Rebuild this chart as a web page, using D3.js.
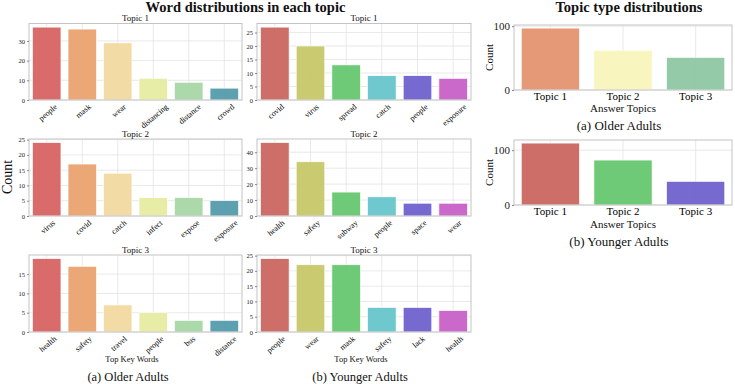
<!DOCTYPE html>
<html lang="en">
  <head>
    <meta charset="utf-8">
    <title>Word and topic distributions</title>
    <style>
      body { margin: 0; background: white; }
      svg { display: block; font-family: "Liberation Serif", "Times New Roman", serif; }
    </style>
    <script src="https://d3js.org/d3.v7.min.js"></script>
  </head>
  <body>
    <div class="viz"></div>
    <script>
    // word counts per topic, older adults
    const olderT1Words = ["people", "mask", "wear", "distancing", "distance", "crowd"];
    const olderT1Counts = [37, 36, 29, 11, 9, 6];
    const olderT2Words = ["virus", "covid", "catch", "infect", "expose", "exposure"];
    const olderT2Counts = [24, 17, 14, 6, 6, 5];
    const olderT3Words = ["health", "safety", "travel", "people", "bus", "distance"];
    const olderT3Counts = [19, 17, 7, 5, 3, 3];

    // word counts per topic, younger adults
    const youngerT1Words = ["covid", "virus", "spread", "catch", "people", "exposure"];
    const youngerT1Counts = [27, 20, 13, 9, 9, 8];
    const youngerT2Words = ["health", "safety", "subway", "people", "space", "wear"];
    const youngerT2Counts = [46, 34, 15, 12, 8, 8];
    const youngerT3Words = ["people", "wear", "mask", "safety", "lack", "health"];
    const youngerT3Counts = [24, 22, 22, 8, 8, 7];

    // topic type counts
    const topicNames = ["Topic 1", "Topic 2", "Topic 3"];
    const olderTopicCounts = [97, 62, 51];
    const youngerTopicCounts = [113, 82, 43];

    const spectral6 = ["#d6605e", "#e9a06a", "#f1d89c", "#e5eca0", "#a5d6a3", "#4f98a9"];
    const hls6 = ["#c9625c", "#c6c564", "#62c66a", "#62c3c9", "#6a5ccc", "#c65cc6"];
    const spectral3 = ["#e4906a", "#f7f4b8", "#8cc6a2"];
    const hls3 = ["#c9625c", "#62c66a", "#6a5ccc"];

    const W = 735, H = 384;
    const svg = d3.select(".viz").append("svg")
      .attr("width", W).attr("height", H);

    function panel(o) {
      const g = svg.append("g");
      const x = d3.scaleBand().domain(o.cats)
        .range([o.x0, o.x1]).paddingInner(0.2).paddingOuter(0.1);
      const y = d3.scaleLinear().domain([0, d3.max(o.vals) * 1.05])
        .range([o.y1, o.y0]);

      // grid
      g.append("g").selectAll("line.h").data(y.ticks(o.nTicks)).join("line")
        .attr("x1", o.x0).attr("x2", o.x1)
        .attr("y1", d => y(d)).attr("y2", d => y(d))
        .attr("stroke", "#e3e3e3").attr("stroke-width", 0.8);
      g.append("g").selectAll("line.v").data(o.cats).join("line")
        .attr("x1", d => x(d) + x.bandwidth() / 2).attr("x2", d => x(d) + x.bandwidth() / 2)
        .attr("y1", o.y0).attr("y2", o.y1)
        .attr("stroke", "#e3e3e3").attr("stroke-width", 0.8);

      g.append("g").selectAll("rect").data(o.vals).join("rect")
        .attr("x", (d, i) => x(o.cats[i]))
        .attr("width", x.bandwidth())
        .attr("y", d => y(d))
        .attr("height", d => o.y1 - y(d))
        .attr("fill", (d, i) => o.colors[i])
        .attr("fill-opacity", 0.92)
        .attr("stroke", "white").attr("stroke-width", 0.6);

      g.append("rect")
        .attr("x", o.x0).attr("y", o.y0)
        .attr("width", o.x1 - o.x0).attr("height", o.y1 - o.y0)
        .attr("fill", "none").attr("stroke", "#c4c4c4").attr("stroke-width", 1);

      const ya = g.append("g")
        .attr("transform", `translate(${o.x0},0)`)
        .call(d3.axisLeft(y).ticks(o.nTicks).tickSize(2).tickPadding(2));
      ya.select(".domain").remove();
      ya.selectAll("line").attr("stroke", "#888");
      ya.selectAll("text").attr("font-family", "Liberation Serif")
        .attr("font-size", o.yFont).attr("fill", "#222");

      const xa = g.append("g")
        .attr("transform", `translate(0,${o.y1})`)
        .call(d3.axisBottom(x).tickSize(0).tickPadding(o.rotate ? 3 : 2));
      xa.select(".domain").remove();
      xa.selectAll("text").attr("font-family", "Liberation Serif")
        .attr("font-size", o.xFont).attr("fill", "#000");
      if (o.rotate) {
        const a = 40 * Math.PI / 180;
        xa.selectAll("text")
          .attr("y", 0).attr("dy", "0.35em").attr("text-anchor", "middle")
          .attr("transform", function () {
            const L = this.getComputedTextLength();
            const hh = (L * Math.sin(a) + o.xFont * Math.cos(a)) / 2;
            return `translate(1,${2.5 + hh}) rotate(-40)`;
          });
      }

      if (o.title) {
        g.append("text")
          .attr("x", (o.x0 + o.x1) / 2).attr("y", o.y0 - 2.5)
          .attr("text-anchor", "middle")
          .attr("font-size", 9).attr("fill", "#111")
          .text(o.title);
      }
    }

    const leftX = [29, 242], midX = [257, 471], rightX = [514, 732];
    const rows = [[23.5, 100], [139, 216], [255, 332]];

    const older = [[olderT1Words, olderT1Counts], [olderT2Words, olderT2Counts], [olderT3Words, olderT3Counts]];
    const younger = [[youngerT1Words, youngerT1Counts], [youngerT2Words, youngerT2Counts], [youngerT3Words, youngerT3Counts]];

    older.forEach((d, i) => panel({
      x0: leftX[0], x1: leftX[1], y0: rows[i][0], y1: rows[i][1],
      cats: d[0], vals: d[1], colors: spectral6, nTicks: 5,
      yFont: 6.5, xFont: 8, rotate: true, title: "Topic " + (i + 1)
    }));
    younger.forEach((d, i) => panel({
      x0: midX[0], x1: midX[1], y0: rows[i][0], y1: rows[i][1],
      cats: d[0], vals: d[1], colors: hls6, nTicks: 5,
      yFont: 6.5, xFont: 8, rotate: true, title: "Topic " + (i + 1)
    }));

    panel({
      x0: rightX[0], x1: rightX[1], y0: 25, y1: 90,
      cats: topicNames, vals: olderTopicCounts, colors: spectral3, nTicks: 1,
      yFont: 11, xFont: 11, rotate: false
    });
    panel({
      x0: rightX[0], x1: rightX[1], y0: 140, y1: 205,
      cats: topicNames, vals: youngerTopicCounts, colors: hls3, nTicks: 1,
      yFont: 11, xFont: 11, rotate: false
    });

    const label = (x, y, txt, size, opts = {}) => {
      const t = svg.append("text")
        .attr("x", x).attr("y", y)
        .attr("text-anchor", "middle")
        .attr("font-size", size)
        .attr("fill", "#111")
        .text(txt);
      if (opts.bold) t.attr("font-weight", "bold");
      if (opts.rotate) t.attr("transform", `rotate(-90,${x},${y})`);
      return t;
    };

    label(245.5, 12, "Word distributions in each topic", 14.5, { bold: true });
    label(629, 12, "Topic type distributions", 14.5, { bold: true });

    label(12, 177, "Count", 14, { rotate: true });
    label(493, 57.5, "Count", 11, { rotate: true });
    label(493, 172.5, "Count", 11, { rotate: true });

    label(132, 362, "Top Key Words", 8.5);
    label(361, 362, "Top Key Words", 8.5);
    label(128, 381, "(a) Older Adults", 12.5);
    label(360, 381, "(b) Younger Adults", 12.5);

    label(623, 112, "Answer Topics", 11);
    label(619, 130, "(a) Older Adults", 13);
    label(623, 228, "Answer Topics", 11);
    label(619, 246, "(b) Younger Adults", 13);
    </script>
  </body>
</html>
